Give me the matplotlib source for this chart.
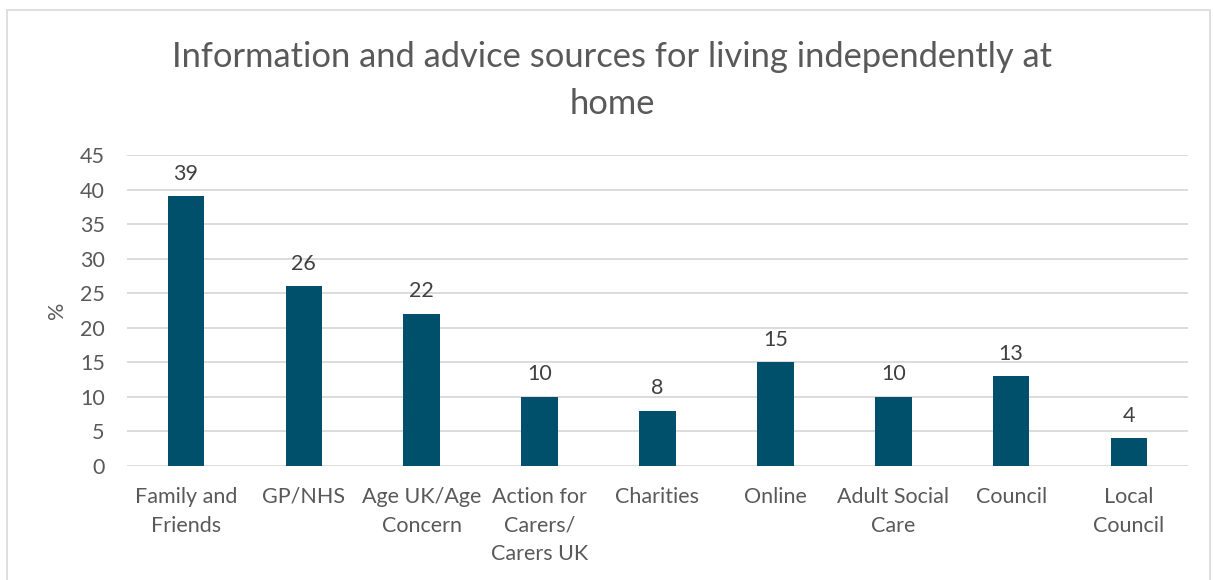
import matplotlib
matplotlib.use("Agg")
import matplotlib.pyplot as plt
from matplotlib.patches import Rectangle

categories = ["Family and\nFriends", "GP/NHS", "Age UK/Age\nConcern", "Action for\nCarers/\nCarers UK",
              "Charities", "Online", "Adult Social\nCare", "Council", "Local\nCouncil"]
values = [39, 26, 22, 10, 8, 15, 10, 13, 4]
yticks = [0, 5, 10, 15, 20, 25, 30, 35, 40, 45]
title = "Information and advice sources for living independently at\nhome"

plt.rcParams['font.family'] = ['Lato', 'DejaVu Sans']
W, H = 1214, 580
fig = plt.figure(figsize=(W / 100, H / 100), dpi=100)
fig.patches.append(Rectangle((7 / W, -0.1), (1210 - 7) / W, 1.1 - 10 / H, transform=fig.transFigure,
                             fill=False, edgecolor="#d9d9d9", linewidth=1.2))

ax = fig.add_axes([127 / W, 1 - 466 / H, (1188 - 127) / W, (466 - 155) / H])
x = list(range(len(categories)))
bars = ax.bar(x, values, width=0.31, color="#00506B", zorder=3)
ax.set_xlim(-0.5, len(categories) - 0.5)
ax.set_ylim(0, 45)
ax.set_yticks(yticks)
ax.yaxis.grid(True, color="#d9d9d9", linewidth=1.3, zorder=0)
for s in ax.spines.values():
    s.set_visible(False)
ax.tick_params(axis="both", length=0, labelsize=15.5, colors="#595959")
ax.tick_params(axis="x", pad=15)
ax.tick_params(axis="y", pad=16)
ax.set_xticks(x)
ax.set_xticklabels(categories, linespacing=1.55)
for b, v in zip(bars, values):
    ax.annotate(str(v), (b.get_x() + b.get_width() / 2, v), xytext=(0, 9), textcoords="offset points",
                ha="center", va="bottom", fontsize=15.5, color="#404040")
ax.set_ylabel("%", fontsize=15.5, color="#595959", labelpad=9)
fig.text(612 / W, 1 - 80.5 / H, title, ha="center", va="center", fontsize=24.8, color="#595959", linespacing=1.55)
fig.savefig("out.png", dpi=100)
